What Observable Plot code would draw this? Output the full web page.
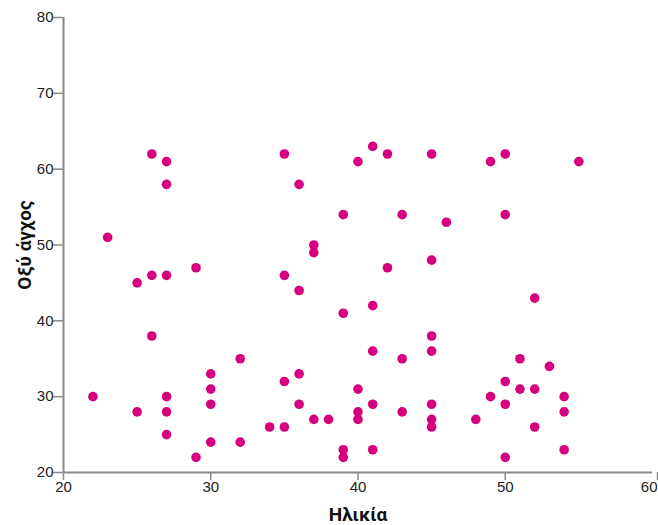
<!DOCTYPE html>
<html>
<head>
<meta charset="utf-8">
<script src="https://cdn.jsdelivr.net/npm/d3@7"></script>
<script src="https://cdn.jsdelivr.net/npm/@observablehq/plot@0.6"></script>
<style>
  html, body { margin: 0; padding: 0; background: #fff; }
</style>
</head>
<body>
<div id="chart"></div>
<script>
const xTitle = ["Ηλικία"];
const yTitle = ["Οξύ άγχος"];
const xTicks = [20, 30, 40, 50];
const xLastTick = [60];
const yTicks = [20, 30, 40, 50, 60, 70, 80];

const ages = [
  22, 23, 25, 25, 26, 26, 26, 27, 27, 27, 27, 27, 27,
  29, 29, 30, 30, 30, 30, 32, 32, 34,
  35, 35, 35, 35, 36, 36, 36, 36, 37, 37, 37, 38,
  39, 39, 39, 39, 40, 40, 40, 40,
  41, 41, 41, 41, 41, 42, 42, 43, 43, 43,
  45, 45, 45, 45, 45, 45, 45, 46, 48, 49, 49,
  50, 50, 50, 50, 50, 51, 51, 52, 52, 52, 53, 54, 54, 54, 55
];
const anxiety = [
  30, 51, 45, 28, 62, 46, 38, 61, 58, 46, 30, 28, 25,
  47, 22, 33, 31, 29, 24, 35, 24, 26,
  62, 46, 32, 26, 58, 44, 33, 29, 50, 49, 27, 27,
  54, 41, 23, 22, 61, 31, 28, 27,
  63, 42, 36, 29, 23, 62, 47, 54, 35, 28,
  62, 48, 38, 36, 29, 27, 26, 53, 27, 61, 30,
  62, 54, 32, 29, 22, 35, 31, 43, 31, 26, 34, 30, 28, 23, 61
];

const data = ages.map((a, i) => ({age: a, anxiety: anxiety[i]}));

const axisGray = "#8a8a8a";
const dotColor = "#d6007f";
const tickFont = 15;

const chart = Plot.plot({
  width: 658,
  height: 525,
  marginLeft: 63,
  marginRight: 6,
  marginTop: 17,
  marginBottom: 53,
  style: {fontFamily: "'Liberation Sans', Arial, sans-serif", fontSize: "15px", background: "#fff"},
  x: {domain: [20, 60]},
  y: {domain: [20, 80]},
  marks: [
    Plot.axisX({ticks: xTicks, tickSize: 8, tickPadding: 1, stroke: axisGray, strokeWidth: 1.5, fill: "#222", fontSize: tickFont, label: null}),
    Plot.axisX({ticks: xLastTick, tickSize: 8, tickPadding: 1, stroke: axisGray, strokeWidth: 1.5, fill: "#222", fontSize: tickFont, textAnchor: "end", dx: 5, label: null}),
    Plot.axisY({ticks: yTicks, tickSize: 10, tickPadding: 0, stroke: axisGray, strokeWidth: 1.5, fill: "#222", fontSize: tickFont, label: null}),
    Plot.ruleX([20], {stroke: axisGray, strokeWidth: 2}),
    Plot.ruleY([20], {stroke: axisGray, strokeWidth: 2}),
    Plot.dot(data, {x: "age", y: "anxiety", r: 4.8, fill: dotColor, stroke: "none"}),
    Plot.text(xTitle, {text: d => d, frameAnchor: "bottom", lineAnchor: "middle", textAnchor: "middle", dy: 42, fontWeight: "bold", fontSize: 19, fontFamily: "Roboto, 'Noto Sans', sans-serif", fill: "#111"}),
    Plot.text(yTitle, {text: d => d, frameAnchor: "left", lineAnchor: "middle", textAnchor: "middle", dx: -39, rotate: -90, fontWeight: "bold", fontSize: 19, fontFamily: "Roboto, 'Noto Sans', sans-serif", fill: "#111"})
  ]
});
document.getElementById("chart").appendChild(chart);
</script>
</body>
</html>
